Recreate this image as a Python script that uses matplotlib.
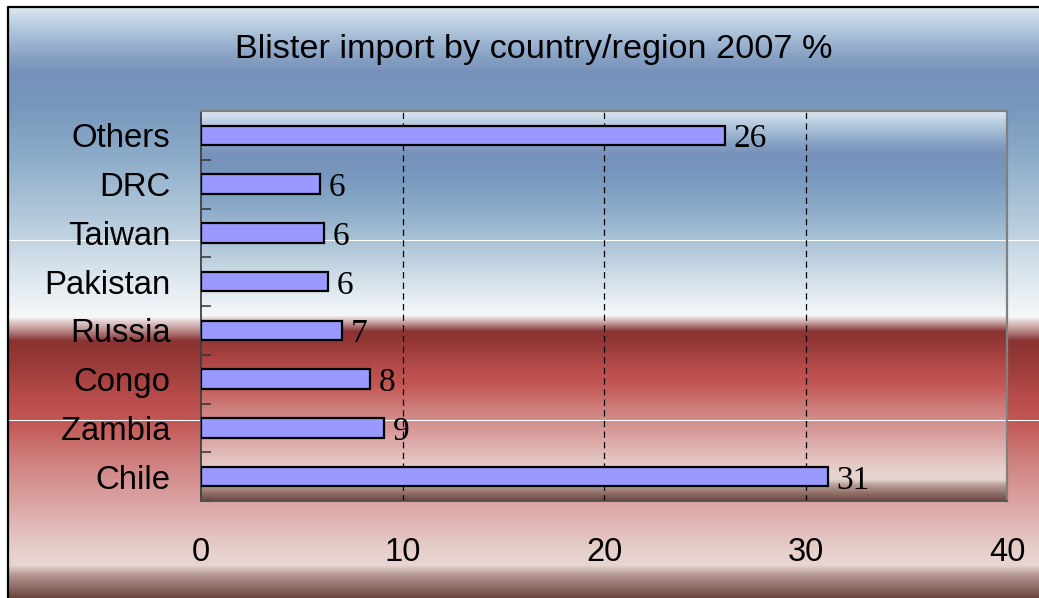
import numpy as np
import matplotlib
matplotlib.use("Agg")
import matplotlib.pyplot as plt
from matplotlib.colors import to_rgb
from matplotlib.ticker import FixedLocator

# ---- data ----
categories = ["Chile", "Zambia", "Congo", "Russia", "Pakistan", "Taiwan", "DRC", "Others"]
values = [31.1, 9.1, 8.4, 7.0, 6.3, 6.1, 5.9, 26.0]
x_ticks = [0, 10, 20, 30, 40]
title = "Blister import by country/region 2007 %"

W, H, DPI = 1039, 598, 100
fig = plt.figure(figsize=(W / DPI, H / DPI), dpi=DPI)
fig.patch.set_facecolor("white")

# ---- background gradient ----
stops = [
    (0.00, "#dce8f2"), (0.03, "#b8cde0"), (0.08, "#8aa4c6"), (0.11, "#7791ba"),
    (0.17, "#7898bd"), (0.25, "#8cabc9"), (0.33, "#a9c2d6"), (0.40, "#c5d6e3"),
    (0.47, "#e2eaf1"), (0.525, "#f6f8fa"), (0.530, "#ead8d8"), (0.548, "#b88888"),
    (0.565, "#8a3232"), (0.60, "#973a38"), (0.66, "#b84c4c"), (0.70, "#c25654"),
    (0.76, "#cd7c7a"), (0.83, "#d9a09e"), (0.92, "#e7d0cc"), (0.945, "#e8d6d2"),
    (0.96, "#b89c96"), (1.00, "#6c463e"),
]
pos = np.array([s[0] for s in stops])
cols = np.array([to_rgb(s[1]) for s in stops])
t = np.linspace(0, 1, 800)
grad = np.stack([np.interp(t, pos, cols[:, k]) for k in range(3)], axis=1)[:, None, :]

bg = fig.add_axes([0, 0, 1, 1], zorder=0)
bg.axis("off")
bg.imshow(grad, extent=(8, W, H, 7), aspect="auto", interpolation="bilinear", zorder=1)
L, R, T, B = 201, 1007, 111, 501
bg.imshow(grad, extent=(L, R, B, T), aspect="auto", interpolation="bilinear", zorder=2)
for yy in (240, 420):
    bg.plot([8, W], [yy, yy], color="white", lw=0.8, zorder=3)
bg.plot([8, 8, W + 5], [H + 5, 7, 7], color="black", lw=1.6, zorder=4,
        solid_capstyle="projecting")
bg.set_xlim(0, W)
bg.set_ylim(H, 0)

# ---- main axes ----
ax = fig.add_axes([L / W, (H - B) / H, (R - L) / W, (B - T) / H], zorder=1)
ax.patch.set_visible(False)

y = np.arange(len(categories))
ax.barh(y, values, height=0.4, color="#9999ff", edgecolor="black", linewidth=1.6, zorder=3)

for yi, v in zip(y, values):
    ax.annotate(f"{v:.0f}", xy=(v, yi), xytext=(6, -8.6), textcoords="offset points",
                ha="left", va="baseline", fontsize=24, family="Liberation Serif",
                color="black", zorder=4)

ax.set_xlim(0, 40)
ax.set_ylim(-0.5, len(categories) - 0.5)

ax.set_xticks(x_ticks)
ax.set_xticklabels([str(v) for v in x_ticks], fontsize=23.5, family="Liberation Sans")
ax.tick_params(axis="x", length=0, pad=26)

ax.set_yticks(y)
ax.set_yticklabels(categories, fontsize=23.7, family="Liberation Sans")
ax.yaxis.set_minor_locator(FixedLocator(np.arange(-0.5, len(categories), 1.0)))
ax.tick_params(axis="y", which="major", length=0, pad=22)
ax.tick_params(axis="y", which="minor", direction="in", length=7.5, width=1.1, color="#333333")

for gx in x_ticks[1:-1]:
    ax.axvline(gx, color="black", lw=0.9, dashes=(5, 3.5), zorder=1)

for side in ("top", "right"):
    ax.spines[side].set_color("#808080")
    ax.spines[side].set_linewidth(1.6)
ax.spines["left"].set_color("#404040")
ax.spines["left"].set_linewidth(1.3)
ax.spines["bottom"].set_color("#505050")
ax.spines["bottom"].set_linewidth(1.3)

fig.text(533.5 / W, (H - 58.3) / H, title, ha="center", va="baseline",
         fontsize=24.7, family="Liberation Sans", color="black")

fig.savefig("out.png", dpi=DPI)
